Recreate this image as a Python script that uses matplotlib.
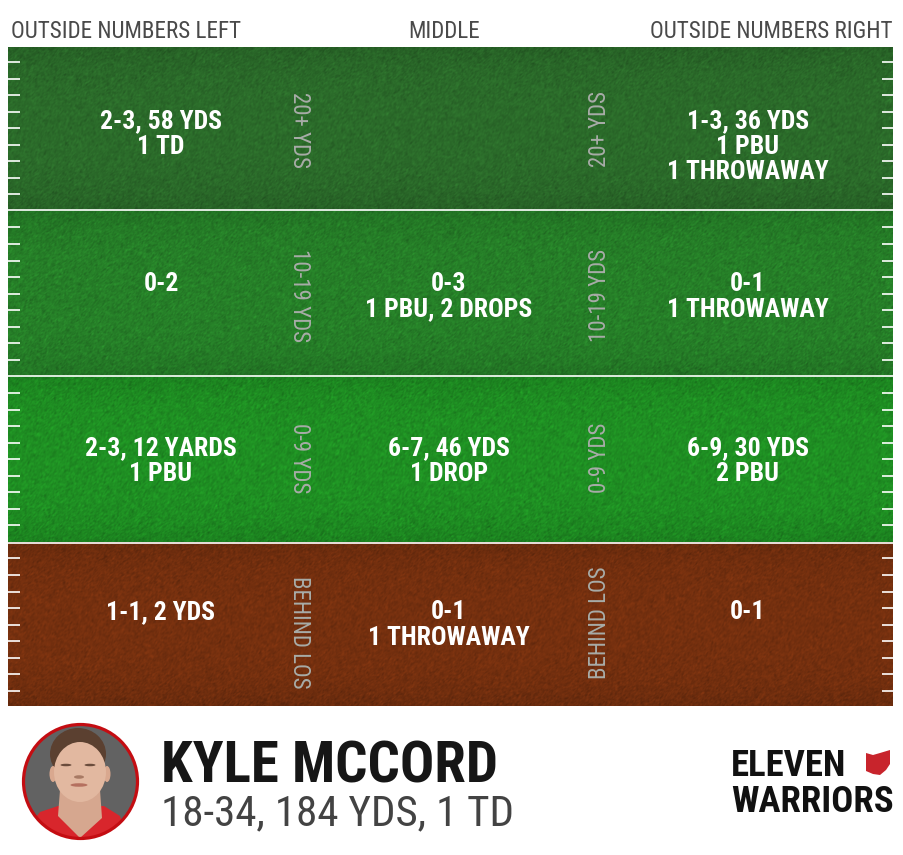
import matplotlib
matplotlib.use("Agg")
import matplotlib.pyplot as plt
import numpy as np
from matplotlib.patches import Circle, Ellipse, Polygon

W, H = 904, 855
FONT = ["Roboto Condensed", "DejaVu Sans"]

column_titles = ["OUTSIDE NUMBERS LEFT", "MIDDLE", "OUTSIDE NUMBERS RIGHT"]
depth_labels = ["20+ YDS", "10-19 YDS", "0-9 YDS", "BEHIND LOS"]
left_cells = ["2-3, 58 YDS\n1 TD", "0-2", "2-3, 12 YARDS\n1 PBU", "1-1, 2 YDS"]
middle_cells = ["", "0-3\n1 PBU, 2 DROPS", "6-7, 46 YDS\n1 DROP", "0-1\n1 THROWAWAY"]
right_cells = ["1-3, 36 YDS\n1 PBU\n1 THROWAWAY", "0-1\n1 THROWAWAY", "6-9, 30 YDS\n2 PBU", "0-1"]
player_name = "KYLE MCCORD"
player_line = "18-34, 184 YDS, 1 TD"

zone_colors = ["#2b6b2a", "#267f28", "#1f8f23", "#75300f"]
zone_edges = [48, 210.5, 376.5, 542.5, 706]
text_baselines = [128, 291, 455, 619]
left_label_y = [130, 296, 458, 632]
right_label_y = [129, 295, 458, 623]


def turf(base, height, width, rng):
    # fine grain plus a darker rim, the look of the turf photo
    noise = rng.normal(0, 1, (height, width))
    for _ in range(2):
        noise = (noise + np.roll(noise, 1, 0) + np.roll(noise, 1, 1)) / 1.7
    noise = noise / noise.std() * 0.045
    rgb = np.array(matplotlib.colors.to_rgb(base))
    yy = np.abs(np.linspace(-1, 1, height))[:, None]
    shade = 1 - 0.10 * yy ** 4
    return np.clip(rgb[None, None, :] * (shade + noise)[:, :, None], 0, 1)


fig = plt.figure(figsize=(W / 100, H / 100), dpi=100)
ax = fig.add_axes([0, 0, 1, 1])

rng = np.random.default_rng(11)
field_left, field_right = 8, 893
for i, color in enumerate(zone_colors):
    top, bottom = zone_edges[i], zone_edges[i + 1]
    ax.imshow(turf(color, int(bottom - top), field_right - field_left, rng),
              extent=[field_left, field_right, bottom, top], aspect="auto", zorder=1)
ax.set_xlim(0, W)
ax.set_ylim(H, 0)
ax.axis("off")

# yard lines and hash marks
for y in zone_edges[1:-1]:
    ax.plot([field_left, field_right], [y, y], color="white", lw=1.2, zorder=2, solid_capstyle="butt")
for y in np.arange(62, 706, 16.55):
    if min(abs(y - e) for e in zone_edges[1:-1]) > 4:
        ax.plot([field_left, 20], [y, y], color="white", lw=1.2, zorder=2, solid_capstyle="butt")
        ax.plot([882, field_right], [y, y], color="white", lw=1.2, zorder=2, solid_capstyle="butt")

# column headers
for title, x, ha in zip(column_titles, [11, 444, 893], ["left", "center", "right"]):
    ax.text(x, 38.5, title, family=FONT, fontsize=16.6, color="#4a4a4a", ha=ha, va="baseline")

# results per zone
for cells, x in zip([left_cells, middle_cells, right_cells], [161, 449, 748]):
    for base, cell in zip(text_baselines, cells):
        for k, line in enumerate(cell.split("\n")):
            ax.text(x, base + 25.5 * k, line, family=FONT, weight="bold", fontsize=18.5,
                    color="white", ha="center", va="baseline", zorder=3)

# depth labels beside the middle column
for label, yl, yr in zip(depth_labels, left_label_y, right_label_y):
    ax.text(300, yl, label, family=FONT, fontsize=16.5, color="#a8aca8", rotation=270,
            ha="center", va="center", zorder=3)
    ax.text(600, yr, label, family=FONT, fontsize=16.5, color="#a8aca8", rotation=90,
            ha="center", va="center", zorder=3)

# headshot
clip = Circle((80.5, 781.5), 57, transform=ax.transData)
ax.add_patch(Circle((80.5, 781.5), 57, facecolor="#626262", edgecolor="none", zorder=2))
parts = [
    Polygon([(30, 825), (40, 812), (58, 806), (104, 806), (120, 816), (130, 845), (30, 845)], facecolor="#d8262c"),
    Polygon([(60, 790), (100, 790), (102, 818), (80, 838), (58, 816)], facecolor="#d6a78f"),
    Ellipse((78, 754), 56, 52, facecolor="#5b4030"),
    Ellipse((53, 774), 7, 16, facecolor="#d9a88f"),
    Ellipse((107, 774), 7, 16, facecolor="#d9a88f"),
    Ellipse((80, 772), 52, 60, facecolor="#e2b8a0"),
    Ellipse((66, 765), 11, 2.5, facecolor="#6a4c3c"),
    Ellipse((90, 765), 11, 2.5, facecolor="#6a4c3c"),
    Ellipse((79, 777), 10, 3.5, facecolor="#a87a64"),
    Ellipse((79, 785), 17, 3.5, facecolor="#b5705f"),
]
for part in parts:
    part.set_zorder(3)
    ax.add_patch(part)
    part.set_clip_path(clip)
ax.add_patch(Circle((80.5, 781.5), 57, facecolor="none", edgecolor="#c40d12", lw=2.3, zorder=5))

# name block
ax.text(161, 782, player_name, family=FONT, weight="bold", fontsize=41, color="#161616",
        ha="left", va="baseline")
ax.text(161, 825, player_line, family=FONT, fontsize=31, color="#434343", ha="left", va="baseline")

# logo
ax.text(731, 776, "ELEVEN", family=FONT, weight="bold", fontsize=26.5, color="#111111", ha="left", va="baseline")
ax.text(731, 812, "WARRIORS", family=FONT, weight="bold", fontsize=26.5, color="#111111", ha="left", va="baseline")
ax.add_patch(Polygon([(866, 753), (873, 755), (880, 753), (890, 750), (890, 764), (886, 770),
                      (880, 775), (873, 774), (866, 771)], facecolor="#c8242c", zorder=3))

fig.savefig("out.png", dpi=100)
